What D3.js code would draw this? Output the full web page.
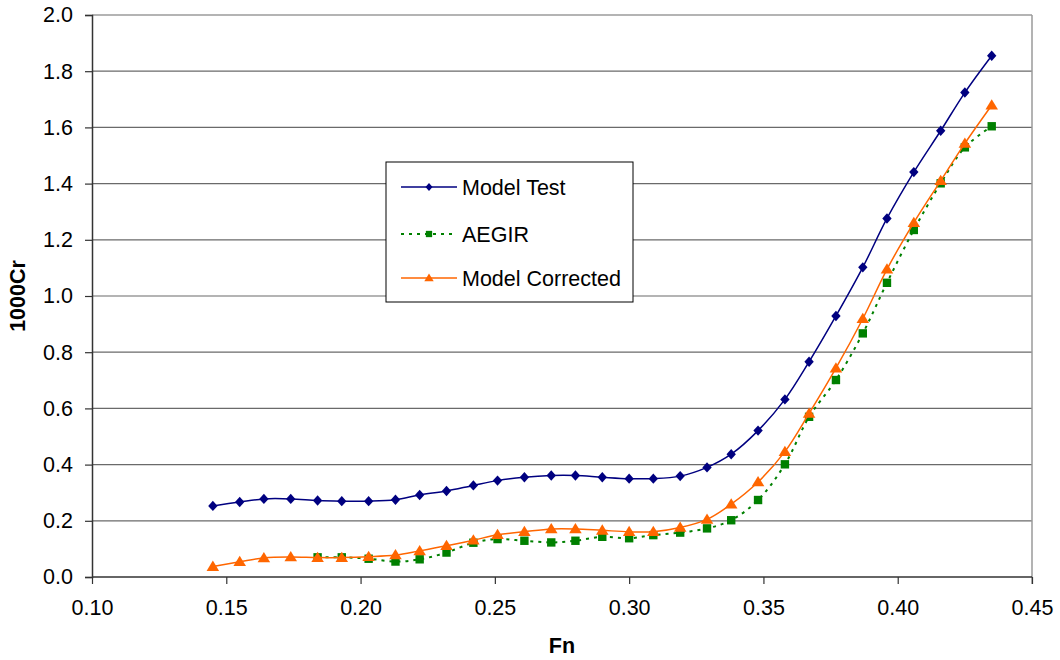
<!DOCTYPE html>
<html>
<head>
<meta charset="utf-8">
<script src="https://cdn.jsdelivr.net/npm/d3@7"></script>
<style>
  body { margin: 0; background: #fff; }
  text { font-family: "Liberation Sans", Arial, sans-serif; }
</style>
</head>
<body>
<div id="chart"></div>
<script>
// Froude numbers (x) for every measured speed
const fn = [0.145, 0.155, 0.164, 0.174, 0.184, 0.193, 0.203, 0.213, 0.222, 0.232,
            0.242, 0.251, 0.261, 0.271, 0.280, 0.290, 0.300, 0.309, 0.319, 0.329,
            0.338, 0.348, 0.358, 0.367, 0.377, 0.387, 0.396, 0.406, 0.416, 0.425, 0.435];

const modelTest = [0.253, 0.267, 0.278, 0.278, 0.272, 0.270, 0.270, 0.275, 0.292, 0.306,
                   0.326, 0.343, 0.355, 0.361, 0.361, 0.355, 0.350, 0.350, 0.359, 0.390,
                   0.437, 0.521, 0.632, 0.766, 0.929, 1.102, 1.276, 1.441, 1.588, 1.724, 1.855];

// AEGIR starts at Fn 0.184
const aegirFn = fn.slice(4);
const aegir = [0.070, 0.070, 0.065, 0.055, 0.063, 0.087, 0.122, 0.135, 0.129, 0.123,
               0.129, 0.143, 0.138, 0.149, 0.158, 0.173, 0.202, 0.274, 0.401, 0.570,
               0.701, 0.867, 1.047, 1.235, 1.401, 1.529, 1.604];

const modelCorrected = [0.037, 0.054, 0.068, 0.071, 0.069, 0.069, 0.072, 0.078, 0.093, 0.111,
                        0.131, 0.150, 0.161, 0.171, 0.171, 0.166, 0.161, 0.161, 0.176, 0.205,
                        0.259, 0.338, 0.446, 0.582, 0.743, 0.919, 1.095, 1.261, 1.410, 1.543, 1.679];

const xTicks = [0.10, 0.15, 0.20, 0.25, 0.30, 0.35, 0.40, 0.45];
const yTicks = [0.0, 0.2, 0.4, 0.6, 0.8, 1.0, 1.2, 1.4, 1.6, 1.8, 2.0];

const width = 1060, height = 660;
const plotLeft = 92, plotRight = 1032, plotTop = 15, plotBottom = 577;
const fontSize = '21.5px';

const svg = d3.select('#chart').append('svg')
    .attr('width', width)
    .attr('height', height);

const x = d3.scaleLinear().domain([0.10, 0.45]).range([plotLeft, plotRight]);
const y = d3.scaleLinear().domain([0, 2]).range([plotBottom, plotTop]);

// horizontal gridlines
svg.append('g')
    .selectAll('line')
    .data(yTicks.filter(d => d > 0))
    .enter()
    .append('line')
    .attr('x1', plotLeft).attr('x2', plotRight)
    .attr('y1', d => y(d)).attr('y2', d => y(d))
    .style('stroke', '#6a6a6a')
    .style('stroke-width', 1.2);

// right border of plot area
svg.append('line')
    .attr('x1', plotRight).attr('x2', plotRight)
    .attr('y1', plotTop).attr('y2', plotBottom + 7)
    .style('stroke', '#9a9a9a')
    .style('stroke-width', 1.5);

// axes
const yAxis = svg.append('g')
    .attr('transform', `translate(${plotLeft},0)`)
    .call(d3.axisLeft(y).tickValues(yTicks).tickFormat(d3.format('.1f')).tickSize(7).tickPadding(12));

const xAxis = svg.append('g')
    .attr('transform', `translate(0,${plotBottom})`)
    .call(d3.axisBottom(x).tickValues(xTicks).tickFormat(d3.format('.2f')).tickSize(7).tickPadding(16));

[yAxis, xAxis].forEach(a => {
    a.select('.domain').style('stroke', '#333').style('stroke-width', 1.5);
    a.selectAll('.tick line').style('stroke', '#333').style('stroke-width', 1.2);
    a.selectAll('.tick text')
        .style('font-size', fontSize)
        .style('font-family', '"Liberation Sans", Arial, sans-serif')
        .style('fill', '#000');
});
xAxis.select('.domain').attr('d', `M${plotLeft},0H${plotRight}`);

// axis titles
svg.append('text')
    .attr('x', (plotLeft + plotRight) / 2)
    .attr('y', 653)
    .attr('text-anchor', 'middle')
    .style('font-size', fontSize)
    .style('font-weight', 'bold')
    .text('Fn');

svg.append('text')
    .attr('transform', `translate(25,${(plotTop + plotBottom) / 2}) rotate(-90)`)
    .attr('text-anchor', 'middle')
    .style('font-size', fontSize)
    .style('font-weight', 'bold')
    .text('1000Cr');

// marker shapes
function diamond(s) { return `M0,${-s}L${s * 0.9},0L0,${s}L${-s * 0.9},0Z`; }
function square(s) { return `M${-s},${-s}H${s}V${s}H${-s}Z`; }
function triangle(s) { return `M0,${-s * 1.05}L${s * 1.1},${s * 0.75}L${-s * 1.1},${s * 0.75}Z`; }

const series = [
    { name: 'Model Test', xs: fn, ys: modelTest, color: '#000080', dash: null, width: 1.5, shape: diamond, size: 5.2 },
    { name: 'AEGIR', xs: aegirFn, ys: aegir, color: '#008000', dash: '3,5', width: 2, shape: square, size: 4.2 },
    { name: 'Model Corrected', xs: fn, ys: modelCorrected, color: '#ff6600', dash: null, width: 1.5, shape: triangle, size: 5.7 }
];

const line = d3.line()
    .x(d => x(d[0]))
    .y(d => y(d[1]))
    .curve(d3.curveCatmullRom.alpha(0.5));

series.forEach(s => {
    const pts = s.xs.map((v, i) => [v, s.ys[i]]);
    svg.append('path')
        .datum(pts)
        .attr('d', line)
        .style('fill', 'none')
        .style('stroke', s.color)
        .style('stroke-width', s.width)
        .style('stroke-dasharray', s.dash);

    svg.append('g')
        .selectAll('path')
        .data(pts)
        .enter()
        .append('path')
        .attr('transform', d => `translate(${x(d[0])},${y(d[1])})`)
        .attr('d', s.shape(s.size))
        .style('fill', s.color);
});

// legend
const legend = svg.append('g').attr('transform', 'translate(386,162)');
legend.append('rect')
    .attr('width', 247)
    .attr('height', 140)
    .style('fill', '#fff')
    .style('stroke', '#000')
    .style('stroke-width', 1);

const rowY = [25, 72, 116];
series.forEach((s, i) => {
    const row = legend.append('g').attr('transform', `translate(0,${rowY[i]})`);
    row.append('line')
        .attr('x1', 15).attr('x2', 71)
        .style('stroke', s.color)
        .style('stroke-width', s.width)
        .style('stroke-dasharray', s.dash);
    row.append('path')
        .attr('transform', 'translate(43,0)')
        .attr('d', s.shape(s.size * 0.75))
        .style('fill', s.color);
    row.append('text')
        .attr('x', 76)
        .attr('y', 7.5)
        .style('font-size', fontSize)
        .text(s.name);
});
</script>
</body>
</html>
